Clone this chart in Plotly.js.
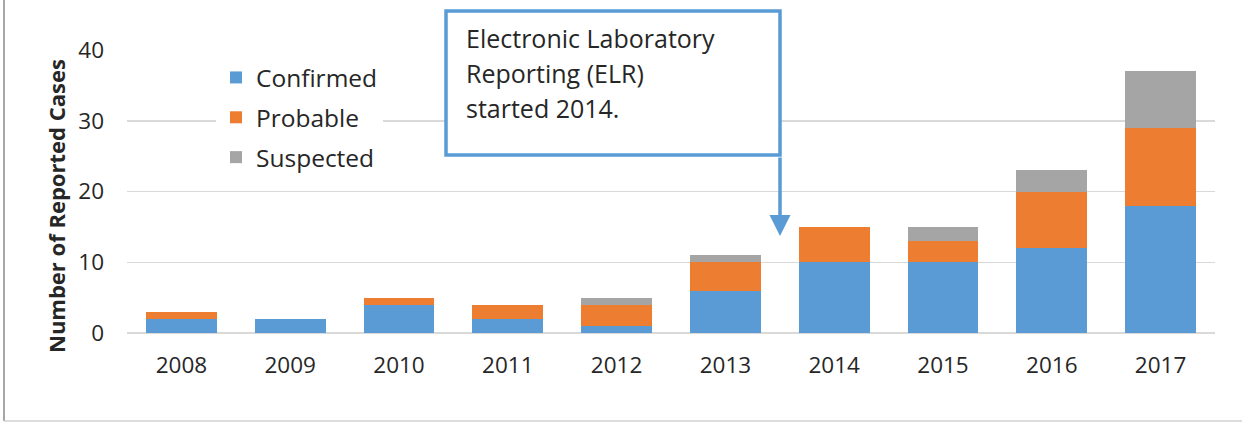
<!DOCTYPE html>
<html>
<head>
<meta charset="utf-8">
<script src="https://cdn.plot.ly/plotly-3.0.1.min.js"></script>
<style>
html,body{margin:0;padding:0;background:#fff;}
#chart{width:1242px;height:422px;}
</style>
</head>
<body>
<div id="chart"></div>
<script>
const years = ['2008','2009','2010','2011','2012','2013','2014','2015','2016','2017'];
const confirmed = [2, 2, 4, 2, 1, 6, 10, 10, 12, 18];
const probable  = [1, 0, 1, 2, 3, 4, 5, 3, 8, 11];
const suspected = [0, 0, 0, 0, 1, 1, 0, 2, 3, 8];
const seriesNames = ['Confirmed', 'Probable', 'Suspected'];
const seriesColors = ['#5b9bd5', '#ed7d31', '#a5a5a5'];
const yTicks = [0, 10, 20, 30, 40];
const yTitle = 'Number of Reported Cases';
const noteLines = ['Electronic Laboratory', 'Reporting (ELR)', 'started 2014.'];

const FONT = '"Open Sans", sans-serif';
const seriesValues = [confirmed, probable, suspected];

const traces = seriesValues.map((vals, i) => ({
  type: 'bar',
  name: seriesNames[i],
  legendgroup: 'g' + i,
  x: years,
  y: vals,
  width: 0.65,
  marker: {color: seriesColors[i], line: {width: 0}},
  hoverinfo: 'x+y+name'
}));

// plot area in pixels: left 127, right 1215, top 50, bottom 333
const L = 127, R = 1215, T = 50, B = 333;
const W = R - L, H = B - T;
const px = x => (x - L) / W;
const py = y => (B - y) / H;

const noteAnns = noteLines.map((t, i) => ({
  xref: 'paper', yref: 'paper', x: px(464), y: py(38 + 35 * i),
  xanchor: 'left', yanchor: 'middle', align: 'left',
  text: t, showarrow: false,
  font: {family: FONT, size: 25, color: '#262626'}
}));

const layout = {
  width: 1242, height: 422,
  margin: {l: L, r: 1242 - R, t: T, b: 422 - B, pad: 0},
  paper_bgcolor: '#ffffff',
  plot_bgcolor: '#ffffff',
  barmode: 'stack',
  bargap: 0.35,
  font: {family: FONT, size: 22, color: '#262626'},
  showlegend: true,
  legend: {
    x: px(216), y: py(55), xanchor: 'left', yanchor: 'top',
    bgcolor: '#ffffff',
    traceorder: 'grouped',
    tracegroupgap: 5,
    font: {family: FONT, size: 24.5, color: '#262626'},
    itemwidth: 30
  },
  xaxis: {
    type: 'category',
    categoryarray: years,
    showgrid: false,
    zeroline: false,
    showline: false,
    ticks: '',
    ticklabelstandoff: 16,
    tickfont: {family: FONT, size: 22.5, color: '#262626'}
  },
  yaxis: {
    range: [0, 40],
    tickvals: yTicks,
    ticktext: yTicks.map(String),
    showgrid: true,
    gridcolor: '#d9d9d9',
    gridwidth: 1.5,
    zeroline: true,
    zerolinecolor: '#d9d9d9',
    zerolinewidth: 1.5,
    showline: false,
    ticks: '',
    ticklabelstandoff: 22,
    tickfont: {family: FONT, size: 22.5, color: '#262626'},
    fixedrange: true
  },
  shapes: [
    // note box
    {type: 'rect', xref: 'paper', yref: 'paper',
     x0: px(446), x1: px(780), y0: py(155), y1: py(11),
     fillcolor: '#ffffff', line: {color: '#5b9bd5', width: 3.5}, layer: 'above'},
    // chart frame (left and bottom)
    {type: 'line', xref: 'paper', yref: 'paper',
     x0: px(4), x1: px(4), y0: py(421), y1: py(-5),
     line: {color: '#a6a6a6', width: 2}},
    {type: 'line', xref: 'paper', yref: 'paper',
     x0: px(4), x1: px(1250), y0: py(421), y1: py(421),
     line: {color: '#d0d0d0', width: 1.5}}
  ],
  annotations: noteAnns.concat([
    {xref: 'paper', yref: 'paper', x: px(56), y: py(206),
     xanchor: 'center', yanchor: 'middle', textangle: -90,
     text: '<b>' + yTitle + '</b>', showarrow: false,
     font: {family: FONT, size: 22, color: '#262626'}},
    {xref: 'paper', yref: 'paper', x: px(780), y: py(236),
     ax: 0, ay: -80, text: '', showarrow: true,
     arrowhead: 2, arrowsize: 1.2, arrowwidth: 3.5, arrowcolor: '#5b9bd5'}
  ])
};

Plotly.newPlot('chart', traces, layout, {displayModeBar: false, staticPlot: true});
</script>
</body>
</html>
